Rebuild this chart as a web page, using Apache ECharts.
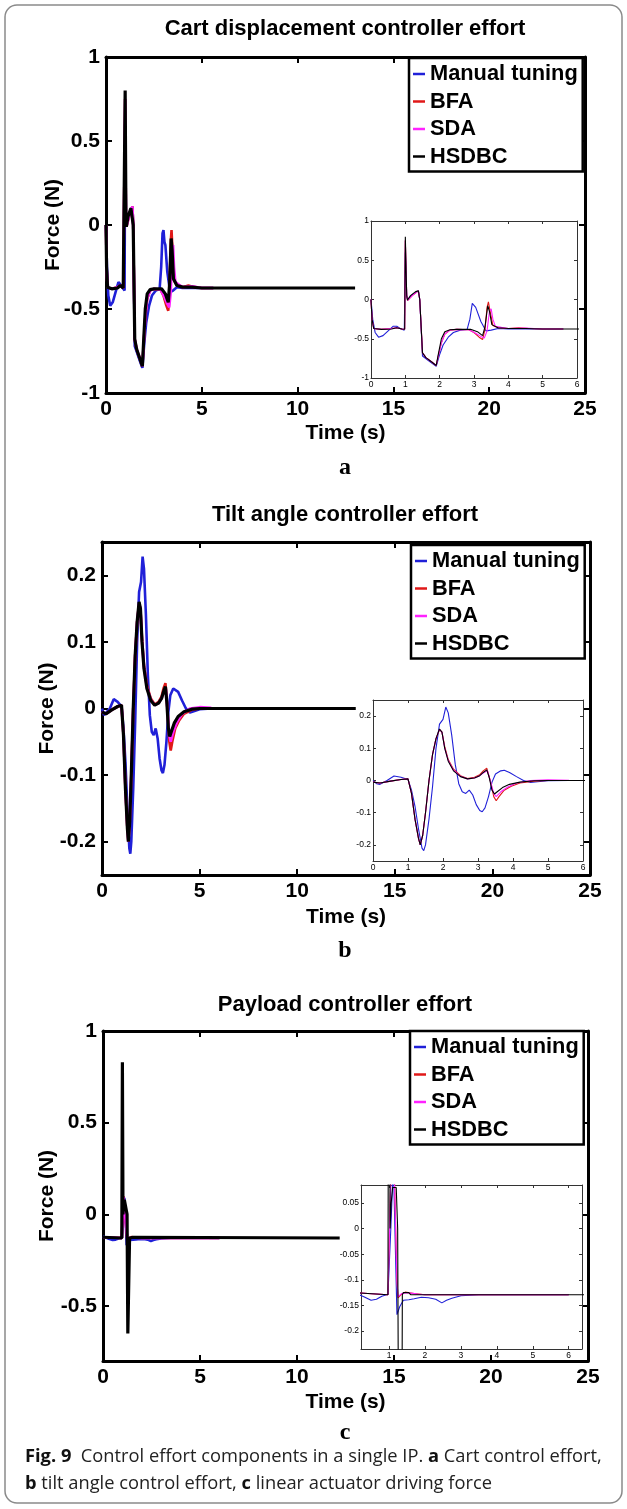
<!DOCTYPE html>
<html><head><meta charset="utf-8">
<script src="https://cdn.jsdelivr.net/npm/echarts@6/dist/echarts.min.js"></script>
<style>html,body{margin:0;padding:0;background:#fff}#c{width:627px;height:1509px}</style>
</head><body><div id="c"></div>
<script>
// ---------- labels ----------
const seriesNames = ['Manual tuning', 'BFA', 'SDA', 'HSDBC'];
const panelTitles = ['Cart displacement controller effort', 'Tilt angle controller effort', 'Payload controller effort'];
const panelLetters = ['a', 'b', 'c'];
const xAxisName = 'Time (s)';
const yAxisName = 'Force (N)';

// ---------- tick values ----------
const mainXTicks = [0, 5, 10, 15, 20, 25];
const insetXTicks = [0, 1, 2, 3, 4, 5, 6];
const payloadInsetXTicks = [1, 2, 3, 4, 5, 6];
const cartYTicks = [-1, -0.5, 0, 0.5, 1];
const tiltYTicks = [-0.2, -0.1, 0, 0.1, 0.2];
const payloadYTicks = [-0.5, 0, 0.5, 1];
const payloadInsetYTicks = [-0.2, -0.15, -0.1, -0.05, 0, 0.05];

// ---------- (a) cart displacement controller effort: [time s, force N] ----------
const cartManual = [[0,0],[0.05,-0.25],[0.12,-0.42],[0.22,-0.48],[0.35,-0.46],[0.5,-0.4],[0.65,-0.34],[0.75,-0.34],[0.85,-0.37],[0.97,-0.39],[1.0,0.6],[1.04,0.05],[1.07,0.0],[1.2,0.06],[1.38,0.11],[1.42,0.0],[1.5,-0.72],[1.65,-0.77],[1.8,-0.82],[1.9,-0.85],[2.0,-0.7],[2.1,-0.58],[2.25,-0.48],[2.4,-0.42],[2.6,-0.39],[2.8,-0.38],[2.88,-0.25],[2.95,-0.05],[3.0,-0.03],[3.05,-0.1],[3.1,-0.12],[3.2,-0.28],[3.35,-0.4],[3.5,-0.39],[3.7,-0.37],[4.0,-0.375],[5.0,-0.375],[5.6,-0.375]];
const cartBFA = [[0,0],[0.03,-0.25],[0.08,-0.37],[0.3,-0.38],[0.6,-0.37],[0.75,-0.36],[0.9,-0.375],[0.98,-0.38],[1.0,0.75],[1.04,0.05],[1.07,-0.01],[1.2,0.05],[1.38,0.11],[1.42,0.0],[1.5,-0.68],[1.6,-0.74],[1.75,-0.79],[1.9,-0.84],[1.96,-0.72],[2.05,-0.55],[2.15,-0.44],[2.3,-0.39],[2.5,-0.38],[2.85,-0.385],[3.0,-0.42],[3.15,-0.48],[3.25,-0.51],[3.32,-0.38],[3.38,-0.1],[3.42,-0.03],[3.47,-0.15],[3.55,-0.33],[3.7,-0.36],[4.0,-0.37],[4.3,-0.36],[4.6,-0.37],[5.0,-0.375],[5.6,-0.375]];
const cartSDA = [[0,0],[0.03,-0.25],[0.08,-0.37],[0.3,-0.38],[0.6,-0.37],[0.75,-0.36],[0.9,-0.375],[0.98,-0.38],[1.0,0.75],[1.04,0.05],[1.07,-0.01],[1.2,0.05],[1.38,0.11],[1.42,0.0],[1.5,-0.68],[1.6,-0.74],[1.75,-0.79],[1.9,-0.84],[1.96,-0.72],[2.05,-0.55],[2.15,-0.44],[2.3,-0.39],[2.5,-0.38],[2.85,-0.385],[3.05,-0.43],[3.2,-0.47],[3.3,-0.49],[3.38,-0.4],[3.45,-0.15],[3.5,-0.12],[3.55,-0.25],[3.62,-0.34],[3.8,-0.355],[4.0,-0.37],[4.5,-0.365],[5.0,-0.375],[5.6,-0.375]];
const cartHSDBC = [[0,0],[0.03,-0.25],[0.08,-0.37],[0.3,-0.38],[0.6,-0.375],[0.75,-0.36],[0.9,-0.375],[0.98,-0.38],[1.0,0.8],[1.04,0.05],[1.06,-0.01],[1.15,0.05],[1.3,0.1],[1.38,0.11],[1.42,0.0],[1.5,-0.68],[1.6,-0.74],[1.75,-0.79],[1.9,-0.84],[1.96,-0.7],[2.05,-0.5],[2.15,-0.41],[2.3,-0.385],[2.5,-0.38],[2.9,-0.38],[3.1,-0.41],[3.25,-0.46],[3.32,-0.35],[3.4,-0.08],[3.45,-0.15],[3.52,-0.32],[3.7,-0.36],[4.0,-0.37],[4.5,-0.37],[5.0,-0.375],[6.0,-0.375],[13.0,-0.375]];

// ---------- (b) tilt angle controller effort ----------
const tiltManual = [[0,0],[0.1,-0.01],[0.2,-0.012],[0.4,0.0],[0.6,0.014],[0.8,0.01],[1.0,0.003],[1.1,-0.03],[1.2,-0.08],[1.3,-0.15],[1.4,-0.21],[1.45,-0.218],[1.5,-0.2],[1.6,-0.12],[1.7,-0.02],[1.8,0.1],[1.9,0.175],[2.0,0.19],[2.08,0.228],[2.15,0.21],[2.25,0.14],[2.35,0.05],[2.45,-0.01],[2.55,-0.035],[2.65,-0.04],[2.75,-0.03],[2.85,-0.045],[2.95,-0.075],[3.05,-0.093],[3.12,-0.097],[3.2,-0.085],[3.3,-0.05],[3.4,-0.005],[3.5,0.02],[3.65,0.03],[3.75,0.032],[3.9,0.025],[4.1,0.012],[4.3,0.0],[4.5,-0.006],[4.7,-0.004],[5.0,-0.001],[5.6,0]];
const tiltBFA = [[0,-0.005],[0.2,-0.008],[0.5,-0.002],[0.8,0.003],[1.0,0.005],[1.1,-0.04],[1.2,-0.12],[1.3,-0.18],[1.35,-0.2],[1.42,-0.17],[1.5,-0.1],[1.6,0.0],[1.7,0.08],[1.8,0.13],[1.9,0.158],[1.97,0.15],[2.05,0.105],[2.15,0.065],[2.3,0.035],[2.5,0.015],[2.7,0.006],[2.9,0.01],[3.05,0.018],[3.15,0.03],[3.25,0.038],[3.35,0.0],[3.45,-0.05],[3.52,-0.063],[3.6,-0.05],[3.75,-0.03],[3.95,-0.018],[4.2,-0.008],[4.6,-0.002],[5.0,0],[5.6,0]];
const tiltSDA = [[0,-0.005],[0.2,-0.008],[0.5,-0.002],[0.8,0.003],[1.0,0.005],[1.1,-0.04],[1.2,-0.12],[1.3,-0.18],[1.35,-0.2],[1.42,-0.17],[1.5,-0.1],[1.6,0.0],[1.7,0.08],[1.8,0.13],[1.9,0.158],[1.97,0.15],[2.05,0.1],[2.15,0.062],[2.3,0.032],[2.5,0.013],[2.7,0.005],[2.9,0.008],[3.05,0.015],[3.17,0.025],[3.27,0.03],[3.35,0.0],[3.45,-0.04],[3.52,-0.05],[3.65,-0.035],[3.85,-0.02],[4.1,-0.008],[4.5,0.0],[5.0,0.002],[5.6,0.001]];
const tiltHSDBC = [[0,-0.005],[0.2,-0.008],[0.5,-0.002],[0.8,0.003],[1.0,0.005],[1.1,-0.04],[1.2,-0.12],[1.3,-0.18],[1.35,-0.2],[1.42,-0.17],[1.5,-0.1],[1.6,0.0],[1.7,0.08],[1.8,0.13],[1.9,0.16],[1.97,0.15],[2.05,0.1],[2.15,0.06],[2.3,0.03],[2.5,0.012],[2.7,0.005],[2.9,0.008],[3.05,0.015],[3.15,0.025],[3.25,0.033],[3.32,0.01],[3.4,-0.03],[3.47,-0.042],[3.55,-0.035],[3.7,-0.022],[3.9,-0.012],[4.2,-0.005],[4.6,-0.001],[5.0,0],[6.0,0],[13.0,0]];

// ---------- (c) payload controller effort ----------
const payloadManual = [[0,-0.12],[0.1,-0.127],[0.3,-0.133],[0.5,-0.14],[0.65,-0.138],[0.8,-0.132],[0.97,-0.128],[1.05,0.0],[1.1,0.09],[1.13,0.1],[1.18,-0.05],[1.22,-0.168],[1.3,-0.152],[1.4,-0.14],[1.55,-0.139],[1.7,-0.137],[1.9,-0.134],[2.1,-0.135],[2.3,-0.138],[2.47,-0.145],[2.6,-0.14],[2.75,-0.136],[3.0,-0.131],[3.5,-0.129],[6.0,-0.129]];
const payloadBFA = [[0,-0.125],[0.97,-0.129],[1.02,0.02],[1.05,0.1],[1.15,0.1],[1.22,-0.1],[1.25,-0.135],[1.35,-0.128],[1.45,-0.124],[1.7,-0.127],[2.0,-0.129],[6.0,-0.129]];
const payloadSDA = [[0,-0.125],[0.97,-0.129],[1.02,0.015],[1.05,0.095],[1.15,0.095],[1.22,-0.1],[1.25,-0.133],[1.35,-0.127],[1.5,-0.125],[1.8,-0.128],[2.0,-0.129],[6.0,-0.129]];
const payloadHSDBC = [[0,-0.125],[0.97,-0.129],[1.0,0.83],[1.03,0.0],[1.06,0.05],[1.1,0.08],[1.2,0.08],[1.24,0.0],[1.28,-0.65],[1.35,-0.65],[1.37,-0.129],[1.4,-0.125],[1.55,-0.125],[1.6,-0.129],[12.2,-0.129]];

// ---------- layout / styling ----------
const colors = ['#2020d8', '#e01818', '#ff22ff', '#000000'];
const FONT = '"Liberation Sans", Arial, Helvetica, sans-serif';

const panels = [
  { title: panelTitles[0], letter: panelLetters[0], data: [cartManual, cartBFA, cartSDA, cartHSDBC],
    titleY: 30, letterY: 469,
    main: { left: 106, top: 57, width: 479, height: 336, ymin: -1, ymax: 1, yTicks: cartYTicks, gapY: 42, gapX: 30 },
    inset: { left: 371, top: 221, width: 206, height: 157, xmin: 0, xmax: 6, xTicks: insetXTicks, ymin: -1, ymax: 1, yTicks: cartYTicks },
    legend: { left: 409, top: 58 } },
  { title: panelTitles[1], letter: panelLetters[1], data: [tiltManual, tiltBFA, tiltSDA, tiltHSDBC],
    titleY: 516, letterY: 952,
    main: { left: 102, top: 542, width: 488, height: 333, ymin: -0.25, ymax: 0.25, yTicks: tiltYTicks, gapY: 44, gapX: 32 },
    inset: { left: 373, top: 700, width: 210, height: 161, xmin: 0, xmax: 6, xTicks: insetXTicks, ymin: -0.25, ymax: 0.25, yTicks: tiltYTicks },
    legend: { left: 411, top: 545 } },
  { title: panelTitles[2], letter: panelLetters[2], data: [payloadManual, payloadBFA, payloadSDA, payloadHSDBC],
    titleY: 1006, letterY: 1434,
    main: { left: 103, top: 1031, width: 485, height: 330, ymin: -0.8, ymax: 1, yTicks: payloadYTicks, gapY: 45, gapX: 31 },
    inset: { left: 361, top: 1185, width: 221, height: 164, xmin: 0.22, xmax: 6.37, xTicks: payloadInsetXTicks, ymin: -0.235, ymax: 0.085, yTicks: payloadInsetYTicks },
    legend: { left: 410, top: 1031 } }
];

const grid = [], xAxis = [], yAxis = [], series = [], legend = [], title = [];

function axisBase(gi, min, max, ticks, st, pos) {
  return {
    type: 'value', gridIndex: gi, position: pos, min: min, max: max, z: st.z,
    axisLine: { show: true, onZero: false, lineStyle: { color: st.lineColor, width: st.lineWidth } },
    axisTick: { show: true, inside: true, length: st.tickLen, customValues: ticks, lineStyle: { color: st.lineColor, width: st.tickWidth } },
    axisLabel: { show: false, customValues: ticks },
    splitLine: { show: false }
  };
}

function addBox(g, xr, yr, st, names) {
  const gi = grid.length;
  grid.push({ left: g.left, top: g.top, width: g.width, height: g.height, containLabel: false, show: false });
  const lbl = { show: true, fontSize: st.fontSize, fontWeight: st.fontWeight, fontFamily: FONT, color: '#000', margin: st.margin };
  const xb = axisBase(gi, xr[0], xr[1], xr[2], st, 'bottom');
  xb.axisLabel = Object.assign({ customValues: xr[2] }, lbl);
  const yl = axisBase(gi, yr[0], yr[1], yr[2], st, 'left');
  yl.axisLabel = Object.assign({ customValues: yr[2] }, lbl);
  if (names) {
    xb.name = xAxisName; xb.nameLocation = 'middle'; xb.nameGap = names.gapX; xb.nameMoveOverlap = false;
    xb.nameTextStyle = { fontSize: 21, fontWeight: 'bold', fontFamily: FONT, color: '#000' };
    yl.name = yAxisName; yl.nameLocation = 'middle'; yl.nameGap = names.gapY; yl.nameMoveOverlap = false;
    yl.nameTextStyle = { fontSize: 21, fontWeight: 'bold', fontFamily: FONT, color: '#000' };
  }
  const xi = xAxis.length; xAxis.push(xb, axisBase(gi, xr[0], xr[1], xr[2], st, 'top'));
  const yi = yAxis.length; yAxis.push(yl, axisBase(gi, yr[0], yr[1], yr[2], st, 'right'));
  return { xi: xi, yi: yi };
}

const mainStyle = { lineColor: '#000', lineWidth: 3, tickLen: 6, tickWidth: 2, fontSize: 21, fontWeight: 'bold', margin: 6, z: 1 };
const insetStyle = { lineColor: '#333', lineWidth: 1, tickLen: 3, tickWidth: 1, fontSize: 8.5, fontWeight: 'normal', margin: 2, z: 6 };

panels.forEach(function (p) {
  const m = p.main, s = p.inset;
  const ax = addBox(m, [0, 25, mainXTicks], [m.ymin, m.ymax, m.yTicks], mainStyle, m);
  p.data.forEach(function (d, k) {
    series.push({ type: 'line', name: seriesNames[k], xAxisIndex: ax.xi, yAxisIndex: ax.yi, data: d,
      showSymbol: false, symbol: 'none', clip: true, z: 3 + k, silent: true,
      lineStyle: { color: colors[k], width: k === 3 ? 3.2 : 2.6 }, itemStyle: { color: colors[k] } });
  });
  const ai = addBox(s, [s.xmin, s.xmax, s.xTicks], [s.ymin, s.ymax, s.yTicks], insetStyle, null);
  p.data.forEach(function (d, k) {
    series.push({ type: 'line', name: seriesNames[k], xAxisIndex: ai.xi, yAxisIndex: ai.yi, data: d,
      showSymbol: false, symbol: 'none', clip: true, z: 8 + k, silent: true,
      lineStyle: { color: colors[k], width: 1.1 }, itemStyle: { color: colors[k] } });
  });
  legend.push({ orient: 'vertical', left: p.legend.left, top: p.legend.top, data: seriesNames,
    icon: 'rect', itemWidth: 12, itemHeight: 2.5, itemGap: 5.5, padding: [5, 5, 4, 4],
    borderColor: '#000', borderWidth: 2.5, backgroundColor: '#fff', selectedMode: false,
    textStyle: { fontSize: 21.8, fontWeight: 'bold', fontFamily: FONT, color: '#000', lineHeight: 22 } });
  title.push({ text: p.title, left: 345, top: p.titleY - 12, textAlign: 'center', padding: 0,
    textStyle: { fontSize: 22, fontWeight: 'bold', fontFamily: FONT, color: '#000' } });
  title.push({ text: p.letter, left: 345, top: p.letterY - 13, textAlign: 'center', padding: 0,
    textStyle: { fontSize: 24, fontWeight: 'bold', fontFamily: '"Liberation Serif", "Times New Roman", serif', color: '#000' } });
});

const capFont = '"Open Sans", "Noto Sans", sans-serif';
const capSize = 18.3;
const graphic = [
  { type: 'rect', shape: { x: 5, y: 5, width: 617, height: 1498, r: 12 }, style: { fill: 'none', stroke: '#8a8a8a', lineWidth: 1.5 }, z: -10, silent: true },
  { type: 'text', left: 25, top: 1448, silent: true, style: {
      text: '{b|Fig. 9}  Control effort components in a single IP. {b|a} Cart control effort,',
      fontSize: capSize, fontFamily: capFont, fill: '#222',
      rich: { b: { fontSize: capSize, fontFamily: capFont, fontWeight: 'bold', fill: '#111' } } } },
  { type: 'text', left: 25, top: 1475, silent: true, style: {
      text: '{b|b} tilt angle control effort, {b|c} linear actuator driving force',
      fontSize: capSize, fontFamily: capFont, fill: '#222',
      rich: { b: { fontSize: capSize, fontFamily: capFont, fontWeight: 'bold', fill: '#111' } } } }
];

const chart = echarts.init(document.getElementById('c'), null, { renderer: 'canvas' });
chart.setOption({
  animation: false, backgroundColor: '#fff',
  title: title, grid: grid, xAxis: xAxis, yAxis: yAxis, legend: legend, series: series, graphic: graphic
});
</script></body></html>
